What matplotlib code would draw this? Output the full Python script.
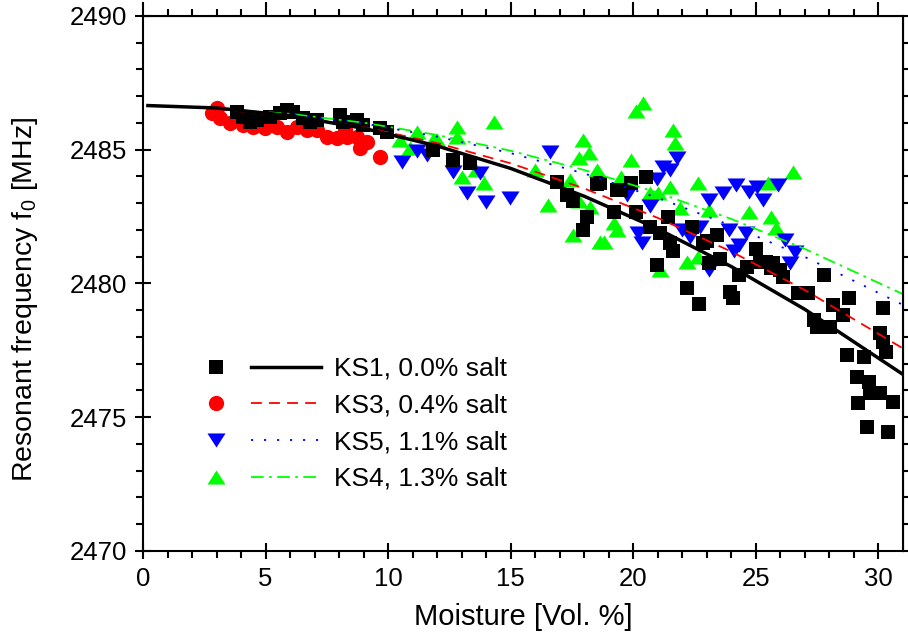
import numpy as np
import matplotlib.pyplot as plt

plt.rcParams['font.family'] = ['Liberation Sans', 'DejaVu Sans']
plt.rcParams['mathtext.fontset'] = 'custom'
plt.rcParams['mathtext.rm'] = 'Liberation Sans'

# KS1, 0.0% salt (black squares)
ks1_x = [3.84, 4.08, 4.37, 4.65, 5.18, 5.59, 5.88, 6.12, 6.53, 6.82, 7.10, 8.04, 8.16, 8.73, 8.98,
         9.67, 9.96, 11.84, 12.65, 13.35, 16.9, 17.3, 17.55, 17.96, 18.1, 18.5, 18.65, 19.2, 19.35,
         19.5, 19.9, 20.1, 20.5, 20.7, 21.1, 21.4, 21.5, 21.6, 20.98, 22.2, 22.4, 22.69, 22.86, 23.0,
         23.1, 23.4, 23.55, 23.96, 24.08, 24.29, 24.65, 25.0, 25.18, 25.4, 25.6, 25.7, 26.0, 26.12,
         26.73, 27.14, 27.35, 27.5, 27.76, 28.04, 28.16, 28.57, 28.78, 30.2, 30.08, 30.2, 30.3, 28.73,
         29.39, 29.14, 29.6, 29.67, 30.08, 29.18, 30.6, 29.55, 30.4]
ks1_y = [2486.41, 2486.22, 2486.04, 2486.11, 2486.22, 2486.37, 2486.49, 2486.41, 2486.19, 2486.04,
         2486.11, 2486.30, 2486.04, 2486.11, 2485.93, 2485.81, 2485.66, 2484.99, 2484.62, 2484.50,
         2483.80, 2483.30, 2483.10, 2482.00, 2482.50, 2483.70, 2483.76, 2482.67, 2483.50, 2483.50,
         2483.76, 2482.67, 2483.98, 2482.10, 2481.90, 2482.49, 2481.50, 2481.20, 2480.69, 2479.83,
         2482.10, 2479.23, 2481.50, 2481.60, 2480.77, 2481.80, 2480.90, 2479.68, 2479.46, 2480.32,
         2480.60, 2481.30, 2480.80, 2480.80, 2480.58, 2480.77, 2480.50, 2480.24, 2479.64, 2479.64,
         2478.64, 2478.37, 2480.32, 2478.37, 2479.20, 2478.82, 2479.46, 2479.10, 2478.15, 2477.80,
         2477.44, 2477.33, 2477.25, 2476.50, 2476.30, 2475.90, 2475.90, 2475.53, 2475.57, 2474.64,
         2474.45]

# KS3, 0.4% salt (red circles)
ks3_x = [3.0, 2.8, 3.14, 3.55, 4.08, 4.49, 4.98, 5.47, 5.88, 6.29, 6.69, 7.1, 7.51, 7.92, 8.33,
         8.73, 9.14, 8.86, 9.67, 8.24]
ks3_y = [2486.56, 2486.37, 2486.19, 2486.00, 2485.93, 2485.85, 2485.81, 2485.85, 2485.66, 2485.85,
         2485.74, 2485.74, 2485.48, 2485.44, 2485.48, 2485.48, 2485.29, 2485.07, 2484.73, 2485.74]

# KS5, 1.1% salt (blue down triangles)
ks5_x = [10.57, 11.18, 11.6, 12.65, 13.76, 13.2, 14.0, 14.98, 16.6, 20.2, 20.37, 21.2, 21.5, 21.8,
         20.98, 20.7, 22.0, 22.3, 23.1, 23.67, 24.2, 24.7, 25.06, 25.3, 25.9, 23.9, 24.6, 24.3,
         24.1, 23.1, 22.7, 26.2, 26.6, 26.4, 19.76]
ks5_y = [2484.54, 2484.95, 2484.80, 2484.17, 2484.13, 2483.38, 2483.04, 2483.20, 2484.92, 2481.90,
         2481.50, 2484.35, 2484.24, 2484.70, 2483.90, 2482.90, 2482.00, 2481.74, 2483.12, 2483.38,
         2483.68, 2483.42, 2483.60, 2483.12, 2483.68, 2482.00, 2481.90, 2481.44, 2481.20, 2480.50,
         2482.10, 2481.63, 2481.18, 2480.77, 2483.30]

# KS4, 1.3% salt (green up triangles)
ks4_x = [10.5, 11.18, 10.9, 11.84, 12.8, 14.3, 12.8, 12.0, 13.0, 13.9, 13.6, 16.0, 16.5, 17.4,
         17.55, 17.8, 17.96, 18.2, 18.5, 18.65, 19.35, 19.5, 19.9, 20.1, 20.4, 21.0, 21.6, 21.7,
         20.7, 21.5, 21.9, 22.65, 23.1, 22.2, 21.1, 24.7, 25.5, 25.6, 25.8, 26.5, 19.2, 18.8, 18.25,
         17.8, 22.65]
ks4_y = [2485.36, 2485.66, 2485.07, 2485.36, 2485.85, 2486.04, 2485.48, 2485.36, 2483.98, 2483.76,
         2484.24, 2484.24, 2482.93, 2483.87, 2481.80, 2484.70, 2485.36, 2484.88, 2484.24, 2481.55,
         2482.00, 2483.98, 2484.60, 2486.45, 2486.75, 2483.40, 2485.74, 2485.25, 2483.38, 2483.60,
         2482.82, 2483.76, 2482.75, 2480.80, 2480.50, 2482.67, 2483.76, 2482.49, 2482.07, 2484.17,
         2482.26, 2481.55, 2482.86, 2483.10, 2481.00]

# fitted curves
fit1_x = [0.2, 3, 6, 9, 12, 15, 18, 21, 24, 27, 31]
fit1_y = [2486.65, 2486.56, 2486.27, 2485.80, 2485.14, 2484.30, 2483.26, 2482.04, 2480.63, 2479.03, 2476.60]
fit_x = [3, 6, 9, 12, 15, 18, 21, 24, 27, 31]
fit3_y = [2486.52, 2486.26, 2485.84, 2485.25, 2484.49, 2483.55, 2482.45, 2481.19, 2479.75, 2477.57]
fit5_y = [2486.53, 2486.32, 2485.98, 2485.49, 2484.87, 2484.11, 2483.20, 2482.16, 2480.99, 2479.20]
fit4_y = [2486.53, 2486.34, 2486.01, 2485.55, 2484.96, 2484.24, 2483.39, 2482.41, 2481.29, 2479.60]

labels = ['KS1, 0.0% salt', 'KS3, 0.4% salt', 'KS5, 1.1% salt', 'KS4, 1.3% salt']

# wide, flat triangles like the original
tri_up = [(-1, -0.78), (1, -0.78), (0, 0.78)]
tri_down = [(-1, 0.78), (1, 0.78), (0, -0.78)]

fig = plt.figure(figsize=(9.08, 6.38), dpi=100)
ax = fig.add_axes([0.1575, 0.1364, 0.837, 0.8386])

m4, = ax.plot(ks4_x, ks4_y, ls='none', marker=tri_up, color='#00ff00', ms=13, mew=0)
m5, = ax.plot(ks5_x, ks5_y, ls='none', marker=tri_down, color='#0000ff', ms=13, mew=0)
m3, = ax.plot(ks3_x, ks3_y, 'o', color='#ff0000', ms=11, mew=0)
m1, = ax.plot(ks1_x, ks1_y, 's', color='black', ms=10.5, mew=0)

l4, = ax.plot(fit_x, fit4_y, color='#00ff00', lw=1.3, ls=(0, (7, 3, 1.5, 3)))
l5, = ax.plot(fit_x, fit5_y, color='#0000ff', lw=1.3, ls=(0, (1.2, 6)))
l3, = ax.plot(fit_x, fit3_y, color='#ff0000', lw=1.3, ls=(0, (6, 4)))
l1, = ax.plot(fit1_x, fit1_y, color='black', lw=2.5)

ax.set_xlim(0, 31)
ax.set_ylim(2470, 2490)
ax.set_xticks(np.arange(0, 31, 5))
ax.set_yticks(np.arange(2470, 2491, 5))
ax.set_xticks(np.arange(0, 31, 1), minor=True)
ax.set_yticks(np.arange(2470, 2491, 1), minor=True)
ax.tick_params(which='major', direction='inout', length=11, width=1.5, labelsize=18.5)
ax.tick_params(axis='x', which='major', pad=6)
ax.tick_params(axis='y', which='major', pad=6)
ax.tick_params(which='minor', direction='out', length=5, width=1.5)
for s in ax.spines.values():
    s.set_linewidth(1.5)

top = ax.secondary_xaxis('top')
top.set_xticks(np.arange(0, 31, 5))
top.set_xticks(np.arange(0, 31, 1), minor=True)
top.tick_params(which='major', direction='out', length=10, width=1.5, labeltop=False)
top.tick_params(which='minor', direction='out', length=5, width=1.5)
right = ax.secondary_yaxis('right')
right.set_yticks(np.arange(2470, 2491, 5))
right.set_yticks(np.arange(2470, 2491, 1), minor=True)
right.tick_params(which='major', direction='out', length=10, width=1.5, labelright=False)
right.tick_params(which='minor', direction='out', length=5, width=1.5)

ax.set_xlabel('Moisture [Vol. %]', fontsize=21, labelpad=9)
ax.set_ylabel(r'Resonant frequency f$_\mathregular{0}$ [MHz]', fontsize=20.5)
ax.yaxis.set_label_coords(-0.136, 0.471)

ax.legend([m1, m3, m5, m4, l1, l3, l5, l4], ['', '', '', ''] + labels, ncol=2,
          loc='upper left', bbox_to_anchor=(0.019, 0.407), frameon=False, fontsize=19,
          handlelength=2.65, handletextpad=0.5, columnspacing=-0.5, labelspacing=0.48)

fig.savefig('out.png', dpi=100)
